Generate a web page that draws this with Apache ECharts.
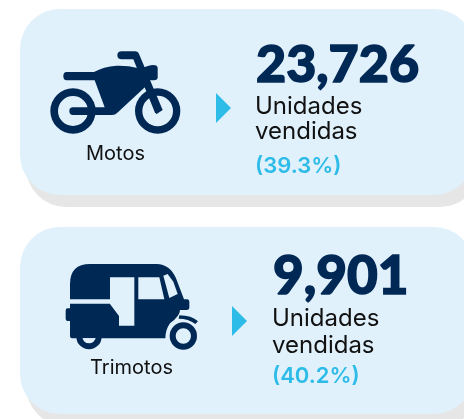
<!DOCTYPE html>
<html>
<head>
<meta charset="utf-8">
<style>
html,body{margin:0;padding:0;background:#fff;}
#main{width:464px;height:419px;}
</style>
<script src="https://cdn.jsdelivr.net/npm/echarts@6/dist/echarts.min.js"></script>
</head>
<body>
<div id="main"></div>
<script>
// datos
var categories = ['Motos', 'Trimotos'];
var unidades = ['23,726', '9,901'];
var porcentajes = ['(39.3%)', '(40.2%)'];
var unidadLineas = ['Unidades', 'vendidas'];

var navy = '#002855';
var cardColor = '#e0f1fb';
var shadowColor = '#e6e6e6';
var cyan = '#2dbbe8';

var myChart = echarts.init(document.getElementById('main'));

// graphic no trae tipo 'path', se registran las formas de los iconos
echarts.graphic.registerShape('motoBody', echarts.graphic.extendPath('M200 216 L282 216 Q310 200 350 197 Q385 196 412 204 L445 252 L352 338 Q346 345 336 345 L219 345 Q208 345 208 333 Q208 322 219 322 L314 322 L284 241 L200 241 Q190 241 190 228 Q190 216 200 216 Z', {}));
echarts.graphic.registerShape('motoFork', echarts.graphic.extendPath('M365 154 L405 154 Q414 154 418 164 L488 330 L470 342 L465 338 L400 178 L365 178 Q352 178 352 166 Q352 154 365 154 Z', {}));
echarts.graphic.registerShape('motoLight', echarts.graphic.extendPath('M425 206 Q445 195 460 195 Q473 195 473 205 L473 232 Q473 241 462 241 L440 241 Z', {}));
echarts.graphic.registerShape('triBody', echarts.graphic.extendPath('M210 268 L210 222 Q210 162 270 162 L470 162 Q510 163 528 205 L552 268 L562 268 Q568 268 568 276 L568 292 Q568 300 560 300 L540 300 Q540 318 510 340 Q496 360 496 385 L216 385 Q210 385 210 378 L210 333 L203 333 Q197 333 197 326 L197 302 Q197 295 203 295 L210 295 L210 268 Z', {}));
echarts.graphic.registerShape('triFender', echarts.graphic.extendPath('M538 316 Q575 316 594 334 L586 342 Q565 326 536 326 Z', {}));
echarts.graphic.registerShape('triGap', echarts.graphic.extendPath('M248 385 L287 385 Q282 396 267 396 Q252 396 248 385 Z', {}));

function card(y, h) {
    return [
        { type: 'rect', shape: { x: 26, y: y + 12, width: 454, height: h, r: 40 }, style: { fill: shadowColor } },
        { type: 'rect', shape: { x: 20, y: y, width: 454, height: h, r: 40 }, style: { fill: cardColor } }
    ];
}

// y es la linea base del texto
function label(text, x, y, size, color, weight, family, align, stroke) {
    var style = { text: text, fill: color, font: weight + ' ' + size + 'px ' + family, textAlign: align || 'left' };
    if (stroke) {
        style.stroke = color;
        style.lineWidth = stroke;
    }
    return { type: 'text', x: x, y: y - size * 0.84, style: style };
}

function arrow(x, y) {
    return { type: 'polygon', shape: { points: [[x, y - 15], [x + 15, y], [x, y + 15]] }, style: { fill: cyan } };
}

// icono moto, dibujado a escala 3x
function motoIcon() {
    var fill = { fill: navy };
    return {
        type: 'group', scaleX: 1 / 3, scaleY: 1 / 3,
        children: [
            { type: 'ring', shape: { cx: 219, cy: 333, r: 68, r0: 45 }, style: fill },
            { type: 'ring', shape: { cx: 473, cy: 333, r: 68, r0: 46 }, style: fill },
            { type: 'motoBody', style: fill },
            { type: 'motoFork', style: fill },
            { type: 'motoLight', style: fill }
        ]
    };
}

// icono trimoto, dibujado a escala 3x (y relativo a 210)
function trimotoIcon() {
    var fill = { fill: navy };
    var hole = { fill: cardColor };
    return {
        type: 'group', y: 210, scaleX: 1 / 3, scaleY: 1 / 3,
        children: [
            { type: 'ring', shape: { cx: 267, cy: 380, r: 38, r0: 20 }, style: fill },
            { type: 'ring', shape: { cx: 550, cy: 378, r: 41, r0: 23 }, style: fill },
            { type: 'triBody', style: fill },
            { type: 'triFender', style: fill },
            // huecos: franja, puerta, ventana y parabrisas
            { type: 'rect', shape: { x: 205, y: 268, width: 125, height: 13 }, style: hole },
            { type: 'polygon', shape: { points: [[330, 202], [403, 202], [403, 347], [357, 347], [357, 318], [330, 282]] }, style: hole },
            { type: 'polygon', shape: { points: [[415, 202], [478, 202], [493, 268], [415, 268]] }, style: hole },
            { type: 'polygon', shape: { points: [[490, 197], [503, 192], [520, 215], [533, 252], [508, 264]] }, style: hole },
            { type: 'triGap', style: hole }
        ]
    };
}

var graphics = []
    .concat(card(227, 187))
    .concat(card(9, 186))
    .concat([
        motoIcon(),
        trimotoIcon(),
        arrow(216, 108),
        arrow(232, 321),
        label(categories[0], 115.5, 161, 20, '#111', 400, 'Inter', 'center'),
        label(categories[1], 131.5, 375, 20, '#111', 400, 'Inter', 'center'),
        label(unidades[0], 256, 83, 52, navy, 900, 'Lato', 'left', 1.5),
        label(unidadLineas[0], 255, 114.5, 24, '#111', 400, 'Inter'),
        label(unidadLineas[1], 255, 139.5, 24, '#111', 400, 'Inter'),
        label(porcentajes[0], 255, 174, 22, cyan, 600, 'Inter'),
        label(unidades[1], 273, 295, 53, navy, 900, 'Lato', 'left', 1.5),
        label(unidadLineas[0], 272, 326.5, 24, '#111', 400, 'Inter'),
        label(unidadLineas[1], 272, 353.5, 24, '#111', 400, 'Inter'),
        label(porcentajes[1], 272, 384, 22, cyan, 600, 'Inter')
    ]);

var option = {
    animation: false,
    backgroundColor: '#fff',
    graphic: { elements: graphics }
};
myChart.setOption(option);
</script>
</body>
</html>
